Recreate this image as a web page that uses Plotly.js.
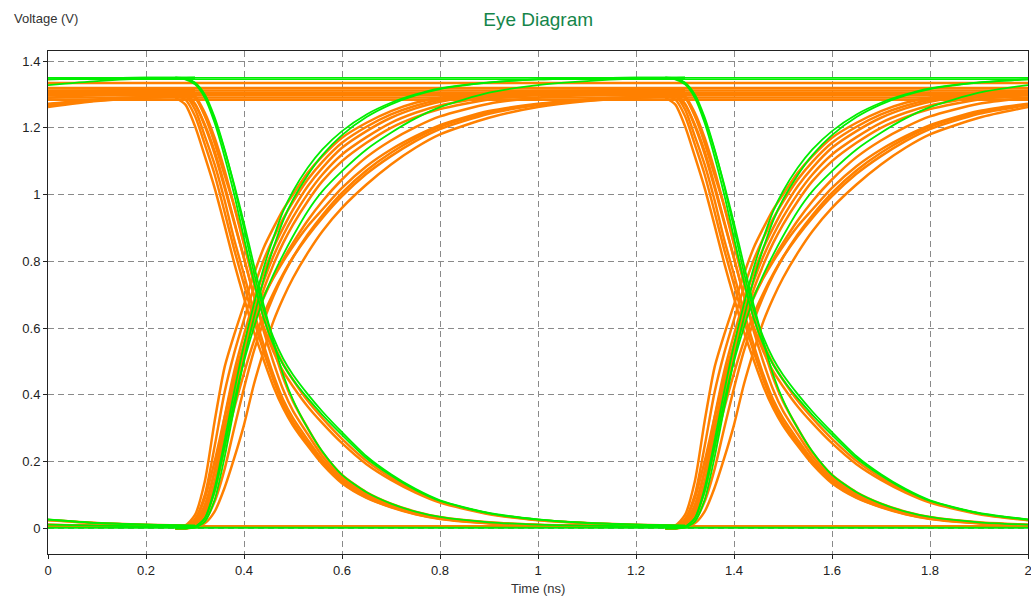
<!DOCTYPE html>
<html><head><meta charset="utf-8">
<script src="https://cdn.plot.ly/plotly-3.0.1.min.js"></script>
<style>html,body{margin:0;padding:0;background:#fff;} #chart{width:1031px;height:598px;}</style>
</head><body><div id="chart"></div>
<script>
// Sample times (ns) of the first bit edge window, second edge window, and the leading tail
const T_EDGE1 = [0.26,0.28,0.30,0.32,0.34,0.36,0.38,0.40,0.42,0.44,0.46,0.48,0.50,0.53,0.56,0.60,0.65,0.70,0.75,0.80,0.90,1.00,1.10,1.20,1.30];
const T_EDGE2 = [1.26,1.28,1.30,1.32,1.34,1.36,1.38,1.40,1.42,1.44,1.46,1.48,1.50,1.53,1.56,1.60,1.65,1.70,1.75,1.80,1.90,2.00];
const T_TAIL  = [0.00,0.10,0.20,0.30];
const TAIL_START = 21; // index in T_EDGE1 of 1.00 ns

// Falling edges (V)
const FALL_FAST_E = [1.290,1.270,1.205,1.115,1.020,0.910,0.795,0.690,0.590,0.505,0.425,0.360,0.308,0.247,0.192,0.135,0.091,0.063,0.042,0.028,0.015,0.009,0.007,0.006,0.006];
const FALL_FAST_D = [1.295,1.285,1.235,1.150,1.060,0.950,0.835,0.730,0.625,0.530,0.445,0.372,0.318,0.255,0.197,0.138,0.093,0.064,0.043,0.029,0.015,0.009,0.007,0.006,0.006];
const FALL_FAST_A = [1.300,1.296,1.255,1.175,1.090,0.985,0.865,0.760,0.650,0.550,0.460,0.385,0.330,0.265,0.205,0.145,0.098,0.068,0.045,0.030,0.016,0.010,0.008,0.007,0.006];
const FALL_FAST_C = [1.305,1.302,1.272,1.205,1.122,1.022,0.915,0.808,0.698,0.592,0.498,0.415,0.352,0.282,0.216,0.152,0.103,0.071,0.047,0.032,0.017,0.010,0.008,0.007,0.006];
const FALL_FAST_B = [1.310,1.308,1.290,1.235,1.155,1.060,0.965,0.855,0.745,0.635,0.540,0.450,0.380,0.300,0.228,0.160,0.108,0.074,0.050,0.034,0.018,0.011,0.008,0.007,0.006];
const FALL_FAST_G = [1.350,1.348,1.335,1.295,1.225,1.135,1.030,0.915,0.790,0.670,0.560,0.460,0.385,0.300,0.230,0.160,0.108,0.074,0.050,0.034,0.018,0.011,0.008,0.006,0.005];
const FALL_SLOW_O1 = [1.300,1.295,1.270,1.210,1.130,1.030,0.920,0.810,0.700,0.605,0.530,0.470,0.425,0.365,0.315,0.255,0.192,0.145,0.107,0.077,0.042,0.024,0.015,0.010,0.008];
const FALL_SLOW_O2 = [1.315,1.312,1.295,1.245,1.170,1.075,0.965,0.850,0.735,0.635,0.555,0.492,0.445,0.382,0.330,0.268,0.202,0.152,0.112,0.080,0.044,0.025,0.016,0.011,0.008];
const FALL_SLOW_G1 = [1.350,1.345,1.330,1.290,1.215,1.115,1.000,0.870,0.740,0.630,0.550,0.490,0.445,0.390,0.340,0.280,0.210,0.158,0.115,0.082,0.045,0.026,0.016,0.011,0.008];
const FALL_SLOW_G2 = [1.350,1.347,1.335,1.300,1.232,1.138,1.025,0.898,0.768,0.655,0.572,0.508,0.460,0.402,0.350,0.288,0.216,0.162,0.118,0.084,0.046,0.027,0.016,0.011,0.008];

// Rising edges (V)
const RISE_FAST_O1 = [0.000,0.008,0.040,0.140,0.320,0.480,0.580,0.670,0.760,0.840,0.900,0.955,1.000,1.065,1.115,1.170,1.215,1.250,1.275,1.290,1.305,1.310,1.312,1.313,1.313];
const RISE_FAST_O4 = [0.000,0.004,0.028,0.100,0.245,0.405,0.525,0.625,0.720,0.803,0.870,0.928,0.978,1.045,1.098,1.155,1.203,1.240,1.266,1.284,1.302,1.308,1.310,1.312,1.312];
const RISE_FAST_O2 = [0.000,0.000,0.015,0.060,0.170,0.330,0.470,0.580,0.680,0.765,0.840,0.900,0.955,1.025,1.080,1.140,1.190,1.230,1.258,1.278,1.298,1.305,1.308,1.310,1.310];
const RISE_FAST_O5 = [0.000,0.000,0.010,0.045,0.140,0.285,0.430,0.550,0.652,0.740,0.815,0.878,0.932,1.002,1.060,1.120,1.172,1.215,1.245,1.267,1.292,1.302,1.306,1.308,1.308];
const RISE_FAST_O3 = [0.000,0.000,0.008,0.035,0.110,0.240,0.390,0.520,0.625,0.715,0.790,0.855,0.910,0.980,1.040,1.100,1.155,1.200,1.232,1.256,1.285,1.298,1.303,1.305,1.306];
const RISE_SLOW_O4 = [0.000,0.003,0.018,0.070,0.170,0.300,0.425,0.530,0.618,0.690,0.752,0.806,0.855,0.922,0.980,1.045,1.112,1.162,1.202,1.234,1.272,1.290,1.298,1.302,1.304];
const RISE_SLOW_O1 = [0.000,0.005,0.025,0.090,0.200,0.330,0.450,0.550,0.630,0.695,0.750,0.800,0.845,0.905,0.955,1.020,1.085,1.135,1.175,1.208,1.250,1.272,1.285,1.292,1.295];
const RISE_SLOW_O3 = [0.000,0.002,0.012,0.050,0.130,0.245,0.360,0.465,0.560,0.640,0.705,0.762,0.812,0.875,0.930,0.995,1.062,1.115,1.160,1.196,1.242,1.268,1.282,1.291,1.295];
const RISE_SLOW_O5 = [0.000,0.000,0.005,0.025,0.080,0.175,0.300,0.420,0.530,0.620,0.695,0.758,0.812,0.880,0.938,1.005,1.072,1.125,1.168,1.203,1.247,1.270,1.283,1.291,1.295];
const RISE_SLOW_O2 = [0.000,0.000,0.003,0.015,0.050,0.120,0.210,0.310,0.430,0.530,0.620,0.690,0.750,0.825,0.890,0.960,1.030,1.090,1.140,1.180,1.230,1.262,1.280,1.290,1.295];
const RISE_FAST_G1 = [0.000,0.000,0.005,0.030,0.120,0.260,0.410,0.550,0.670,0.780,0.870,0.950,1.010,1.080,1.135,1.190,1.240,1.275,1.300,1.318,1.336,1.345,1.348,1.350,1.350];
const RISE_FAST_G2 = [0.000,0.000,0.003,0.020,0.085,0.210,0.360,0.505,0.630,0.745,0.840,0.922,0.985,1.058,1.118,1.178,1.232,1.270,1.297,1.316,1.335,1.345,1.348,1.350,1.350];
const RISE_SLOW_G = [0.000,0.000,0.005,0.030,0.110,0.240,0.380,0.500,0.600,0.690,0.760,0.820,0.875,0.950,1.010,1.070,1.135,1.185,1.228,1.262,1.305,1.328,1.340,1.347,1.350];

// Steady logic levels (V)
const HIGH_ORANGE = [1.284,1.291,1.298,1.305,1.312,1.319,1.334];
const HIGH_GREEN  = [1.345,1.350];
const LOW_ORANGE  = [0.007];
const LOW_GREEN   = [0.002];
const T_FULL = [0.0, 2.0];

const ORANGE = '#ff8000', GREEN = '#00ee00';

const orangeCurves = [FALL_FAST_E, FALL_FAST_D, FALL_FAST_A, FALL_FAST_C, FALL_FAST_B, FALL_SLOW_O1, FALL_SLOW_O2,
  RISE_FAST_O1, RISE_FAST_O4, RISE_FAST_O2, RISE_FAST_O5, RISE_FAST_O3,
  RISE_SLOW_O4, RISE_SLOW_O1, RISE_SLOW_O3, RISE_SLOW_O5, RISE_SLOW_O2];
const greenCurves = [FALL_FAST_G, FALL_SLOW_G1, FALL_SLOW_G2, RISE_FAST_G1, RISE_FAST_G2, RISE_SLOW_G];

const traces = [];
function line(x, y, c, w) {
  traces.push({x: x, y: y, type: 'scatter', mode: 'lines', hoverinfo: 'skip',
    line: {color: c, width: w, shape: 'spline', smoothing: 0.7}});
}
function edgeCurve(y, c, w) {
  line(T_TAIL, y.slice(TAIL_START), c, w);
  line(T_EDGE1, y, c, w);
  line(T_EDGE2, y.slice(0, T_EDGE2.length), c, w);
}
HIGH_ORANGE.forEach(v => line(T_FULL, [v, v], ORANGE, 2.5));
LOW_ORANGE.forEach(v => line(T_FULL, [v, v], ORANGE, 2));
orangeCurves.forEach(y => edgeCurve(y, ORANGE, 2.5));
HIGH_GREEN.forEach(v => line(T_FULL, [v, v], GREEN, 1.5));
LOW_GREEN.forEach(v => line(T_FULL, [v, v], GREEN, 2));
greenCurves.forEach(y => edgeCurve(y, GREEN, 1.8));

const FONT = 'Liberation Sans, Arial, sans-serif';
const axisCommon = {
  showline: true, mirror: true, linecolor: '#222', linewidth: 1,
  showgrid: true, gridcolor: '#8a8a8a', griddash: '6px,4px', gridwidth: 1,
  zeroline: false, ticks: 'outside', ticklen: 4, tickcolor: '#222',
  tickfont: {family: FONT, size: 13, color: '#222'}
};
const layout = {
  width: 1031, height: 598,
  margin: {l: 48, r: 3, t: 51, b: 44},
  paper_bgcolor: '#fff', plot_bgcolor: '#fff',
  showlegend: false,
  title: {text: 'Eye Diagram', font: {family: FONT, size: 19, color: '#15854a'},
          x: 0.522, xanchor: 'center', y: 0.968, yanchor: 'middle'},
  xaxis: Object.assign({}, axisCommon, {range: [0, 2], dtick: 0.2, tick0: 0, ticklabeloverflow: 'allow'}),
  yaxis: Object.assign({}, axisCommon, {range: [-0.077, 1.43], dtick: 0.2, tick0: 0}),
  annotations: [
    {text: 'Voltage (V)', xref: 'paper', yref: 'paper', x: -0.037, y: 1.064,
     xanchor: 'left', yanchor: 'middle', showarrow: false, font: {family: FONT, size: 13, color: '#333'}},
    {text: 'Time (ns)', xref: 'paper', yref: 'paper', x: 0.5, y: -0.068,
     xanchor: 'center', yanchor: 'middle', showarrow: false, font: {family: FONT, size: 13, color: '#333'}}
  ]
};
Plotly.newPlot('chart', traces, layout, {staticPlot: true, displayModeBar: false});
</script></body></html>
